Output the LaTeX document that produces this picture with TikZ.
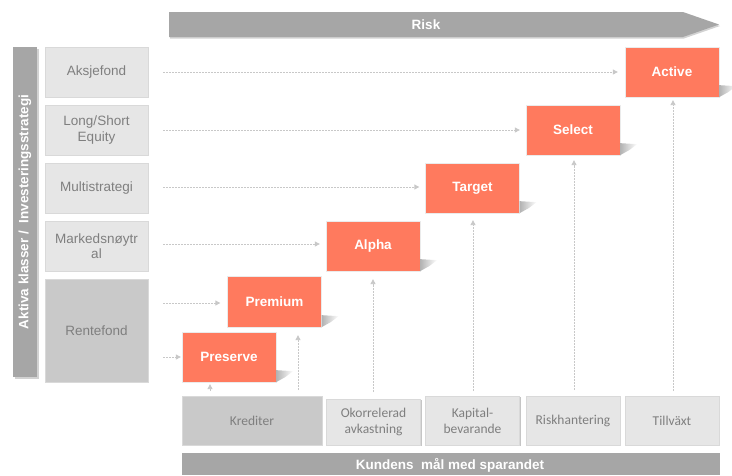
\documentclass[tikz,border=0pt]{standalone}
\usepackage{fontspec}
\setmainfont{Liberation Sans}
\newfontfamily\calfont{Carlito}
\usetikzlibrary{arrows.meta,shadows,fadings}
\definecolor{orng}{HTML}{FF7A5E}
\definecolor{bar}{HTML}{A6A6A6}
\definecolor{lgray}{HTML}{E6E6E6}
\definecolor{mgray}{HTML}{C9C9C9}
\definecolor{txtg}{HTML}{7F7F7F}
\definecolor{dashc}{HTML}{C8C8C8}
\tikzset{
  sh/.style={drop shadow={shadow xshift=1.2pt,shadow yshift=-1.2pt,fill=black!45,opacity=.5}},
  lbox/.style={draw=black!15,line width=.5pt,fill=lgray,sh,text=txtg,align=center,font=\fontsize{13.5}{15.5}\selectfont,inner sep=1pt,minimum width=103pt},
  bbox/.style={draw=black!15,line width=.5pt,fill=lgray,sh,text=txtg,align=center,font=\calfont\fontsize{13.5}{16}\selectfont,inner sep=1pt,minimum width=94pt,minimum height=49pt},
  obox/.style={fill=orng,draw=black!8,line width=.3pt,text=white,font=\bfseries\fontsize{13.5}{15}\selectfont,minimum width=94pt,minimum height=50pt,inner sep=0pt},
  darr/.style={draw=dashc,line width=.9pt,dash pattern=on 2pt off 1pt,-{Triangle[length=5pt,width=5pt,fill=dashc]}},
  wtxt/.style={text=white,font=\bfseries\fontsize{13.5}{15}\selectfont}
}
\newcommand{\oshadow}[1]{%
  \fill[black!30,path fading=east] (#1.south east) -- ([yshift=12pt]#1.south east) -- ([xshift=17pt,yshift=11pt]#1.south east) -- ([xshift=9pt,yshift=5pt]#1.south east) -- cycle;}
\begin{document}
\begin{tikzpicture}[x=1pt,y=-1pt]
\useasboundingbox (0,0) rectangle (732,475);
% Risk arrow
\fill[black!35,opacity=.5] (170,13.5) -- (684,13.5) -- (720,26) -- (684,38.5) -- (170,38.5) -- cycle;
\fill[bar] (169,12) -- (683,12) -- (719,24.5) -- (683,37) -- (169,37) -- cycle;
\node[wtxt] (risk) at (426,24.5) {Risk};
% bottom bar
\fill[bar] (182,453) rectangle (720,475);
\node[wtxt] (kund) at (450,465) {Kundens\ \ mål med sparandet};
% vertical bar
\fill[black!35,opacity=.5] (14.5,48.5) rectangle (38.5,378.5);
\fill[bar] (13,47) rectangle (37,377);
\node[wtxt,rotate=90,font=\bfseries\fontsize{13.5}{15}\selectfont] (akt) at (25,212) {Aktiva klasser\ /\ \ Investeringsstrategi};
% left boxes
\node[lbox,minimum height=50pt] (aks) at (96.5,72) {Aksjefond};
\node[lbox,minimum height=50pt] (ls) at (96.5,130) {Long/Short\\Equity};
\node[lbox,minimum height=50pt] (ms) at (96.5,188) {Multistrategi};
\node[lbox,minimum height=50pt] (mn) at (96.5,246) {Markedsnøytr\\al};
\node[lbox,minimum height=103pt,fill=mgray] (rent) at (96.5,330.5) {Rentefond};
% orange boxes
\node[obox] (act) at (672,72) {Active};
\node[obox] (sel) at (573,130) {Select};
\node[obox] (tar) at (472.5,188) {Target};
\node[obox] (alp) at (373,246) {Alpha};
\node[obox,minimum height=51pt] (pre) at (274.5,301.5) {Premium};
\node[obox] (prs) at (229,357) {Preserve};
\foreach \b in {act,sel,tar,alp,pre,prs} {\oshadow{\b}}
% bottom boxes
\node[bbox,fill=mgray,minimum width=140pt] (kre) at (252,420.5) {Krediter};
\node[bbox,minimum height=46pt] (oko) at (373.5,422) {Okorrelerad\\avkastning};
\node[bbox] (kap) at (472.5,420.5) {Kapital-\\bevarande};
\node[bbox] (rsk) at (573,420.5) {Riskhantering};
\node[bbox] (til) at (672,420.5) {Tillväxt};
% horizontal dashed arrows
\coordinate (h1) at (163,72);
\coordinate (h2) at (163,130);
\coordinate (h3) at (163,187);
\coordinate (h4) at (163,244);
\coordinate (h5) at (163,303);
\coordinate (h6) at (163,357);
\draw[darr,shorten >=7pt] (h1) -- (h1 -| act.west);
\draw[darr,shorten >=6pt] (h2) -- (h2 -| sel.west);
\draw[darr,shorten >=6pt] (h3) -- (h3 -| tar.west);
\draw[darr,shorten >=6pt] (h4) -- (h4 -| alp.west);
\draw[darr,shorten >=7pt] (h5) -- (h5 -| pre.west);
\draw[darr,shorten >=1pt] (h6) -- (h6 -| prs.west);
% vertical dashed arrows
\coordinate (v1) at (210,391);
\coordinate (v2) at (298,390);
\coordinate (v3) at (373,392);
\coordinate (v4) at (473,391);
\coordinate (v5) at (574,390);
\coordinate (v6) at (673,391);
\draw[darr,shorten >=2pt] (v1) -- (v1 |- prs.south);
\draw[darr,shorten >=8pt] (v2) -- (v2 |- pre.south);
\draw[darr,shorten >=8pt] (v3) -- (v3 |- alp.south);
\draw[darr,shorten >=7pt] (v4) -- (v4 |- tar.south);
\draw[darr,shorten >=5pt] (v5) -- (v5 |- sel.south);
\draw[darr,shorten >=3pt] (v6) -- (v6 |- act.south);
\end{tikzpicture}
\end{document}
